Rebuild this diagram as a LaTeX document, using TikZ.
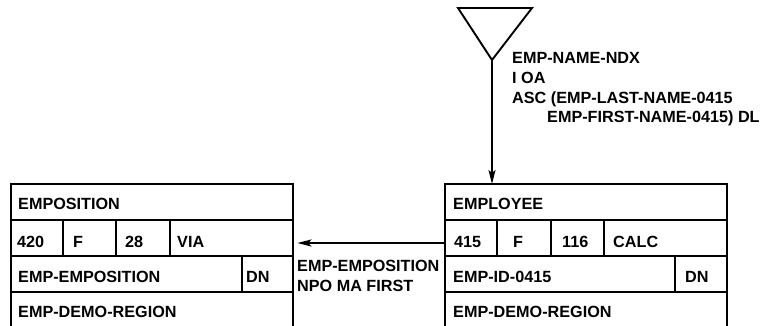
\documentclass[tikz,border=0pt]{standalone}
\usepackage{fontspec}
\setmainfont{Liberation Sans}
\usetikzlibrary{arrows.meta,calc}
\begin{document}
\begin{tikzpicture}[x=1pt,y=-1pt,
  rule/.style={line width=1.9pt},
  txt/.style={anchor=base west,inner sep=0pt,font=\fontsize{16.2}{19}\selectfont\bfseries},
  recbox/.style={minimum width=282pt,minimum height=141pt,anchor=north west,inner sep=0pt},
  conn/.style={line width=1.9pt,-{Stealth[length=14pt,width=7pt,inset=3pt]}}]
\useasboundingbox (0,0) rectangle (770,325);
% record boxes (invisible nodes for naming)
\node[recbox] (empos) at (11,184) {};
\node[recbox] (employee) at (445,184) {};
% EMPOSITION box
\draw[rule] (11,326) -- (11,184) -- (293,184) -- (293,326);
\draw[rule] (11,220) -- (293,220);
\draw[rule] (11,256) -- (293,256);
\draw[rule] (11,292) -- (293,292);
\draw[rule] (63,220) -- (63,256);
\draw[rule] (116,220) -- (116,256);
\draw[rule] (170,220) -- (170,256);
\draw[rule] (242,256) -- (242,292);
\node[txt] (t1) at (18,209) {EMPOSITION};
\node[txt] (t2) at (17,247) {420};
\node[txt] (t3) at (73,247) {F};
\node[txt] (t4) at (125,247) {28};
\node[txt] (t5) at (177,247) {VIA};
\node[txt] (t6) at (18,282) {EMP-EMPOSITION};
\node[txt] (t7) at (246,282) {DN};
\node[txt] (t8) at (18,317) {EMP-DEMO-REGION};
% EMPLOYEE box
\draw[rule] (445,326) -- (445,184) -- (727,184) -- (727,326);
\draw[rule] (445,220) -- (727,220);
\draw[rule] (445,256) -- (727,256);
\draw[rule] (445,292) -- (727,292);
\draw[rule] (497,220) -- (497,256);
\draw[rule] (551,220) -- (551,256);
\draw[rule] (604,220) -- (604,256);
\draw[rule] (675,256) -- (675,292);
\node[txt] (u1) at (453,209) {EMPLOYEE};
\node[txt] (u2) at (454,247) {415};
\node[txt] (u3) at (513,247) {F};
\node[txt] (u4) at (562,247) {116};
\node[txt] (u5) at (613,247) {CALC};
\node[txt] (u6) at (453,282) {EMP-ID-0415};
\node[txt] (u7) at (685,282) {DN};
\node[txt] (u8) at (453,317) {EMP-DEMO-REGION};
% set connector
\coordinate (sfrom) at ($(employee.north west)+(0,59)$);
\coordinate (sto) at ($(empos.north east)+(4,59)$);
\draw[conn] (sfrom) -- (sto);
\node[txt] (s1) at (297,271) {EMP-EMPOSITION};
\node[txt] (s2) at (297,291.5) {NPO MA FIRST};
% index triangle
\coordinate (tri) at (492,60);
\draw[rule,line join=miter] (458,8) -- (532,8) -- (tri) -- cycle;
\draw[conn] (tri) -- (tri |- employee.north);
\node[txt] (i1) at (512,63) {EMP-NAME-NDX};
\node[txt] (i2) at (512,83) {I OA};
\node[txt] (i3) at (512,103) {ASC (EMP-LAST-NAME-0415};
\node[txt] (i4) at (547,122) {EMP-FIRST-NAME-0415) DL};
\end{tikzpicture}
\end{document}
